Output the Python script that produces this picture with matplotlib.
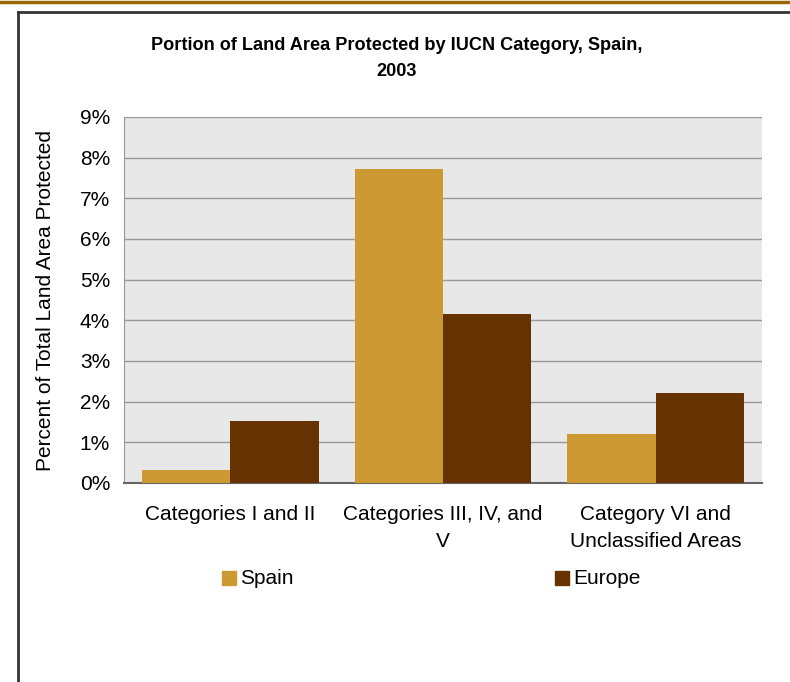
import matplotlib.pyplot as plt
import numpy as np
from matplotlib.lines import Line2D
from matplotlib.patches import Rectangle

categories = ["Categories I and II", "Categories III, IV, and\nV", "Category VI and\nUnclassified Areas"]
spain = [0.32, 7.71, 1.20]
europe = [1.52, 4.15, 2.21]
yticks = [0, 1, 2, 3, 4, 5, 6, 7, 8, 9]

plt.rcParams['font.family'] = ['Liberation Sans', 'DejaVu Sans']

W, H = 790, 682
fig = plt.figure(figsize=(W/100, H/100), dpi=100)

# frame lines
fig.add_artist(Line2D([0, 1], [1 - 1.5/H, 1 - 1.5/H], color='#996600', lw=2.5, transform=fig.transFigure))
fig.add_artist(Line2D([17.5/W, 17.5/W], [0, 1 - 12/H], color='#333333', lw=2, transform=fig.transFigure))
fig.add_artist(Line2D([17.5/W, 1], [1 - 12/H, 1 - 12/H], color='#333333', lw=2, transform=fig.transFigure))

ax = fig.add_axes([124/W, 1 - 483/H, (762-124)/W, (483-117)/H])
ax.set_facecolor('#E8E8E8')
x = np.arange(len(categories))
bw = 0.416
ax.bar(x - bw/2, spain, bw, color='#CC9933', zorder=3)
ax.bar(x + bw/2, europe, bw, color='#663300', zorder=3)
ax.set_xlim(-0.5, 2.5)
ax.set_ylim(0, 9)
ax.set_yticks(yticks)
ax.set_yticklabels([f"{v}%" for v in yticks], fontsize=15)
ax.yaxis.grid(True, color='#999999', lw=1, zorder=1)
ax.set_xticks(x)
ax.set_xticklabels(categories, fontsize=15, linespacing=1.5)
ax.tick_params(axis='y', length=0, pad=10)
ax.tick_params(axis='x', length=0, pad=16)
for s in ['top', 'right']:
    ax.spines[s].set_visible(False)
ax.spines['left'].set_color('#999999')
ax.spines['bottom'].set_color('#666666')
ax.spines['bottom'].set_linewidth(1.5)

fig.text(46/W, 1 - 300/H, "Percent of Total Land Area Protected", rotation=90,
         ha='center', va='center', fontsize=15)

fig.text(397/W, 1 - 45/H, "Portion of Land Area Protected by IUCN Category, Spain,", ha='center', va='center', fontsize=13.1, fontweight='bold')
fig.text(397/W, 1 - 71/H, "2003", ha='center', va='center', fontsize=13.1, fontweight='bold')

# legend
fig.text(240/W, 1 - 578/H, "Spain", ha='left', va='center', fontsize=15)
fig.text(573/W, 1 - 578/H, "Europe", ha='left', va='center', fontsize=15)
fig.add_artist(Rectangle((222/W, 1 - 585/H), 14/W, 14/H, color='#CC9933', transform=fig.transFigure))
fig.add_artist(Rectangle((555/W, 1 - 585/H), 14/W, 14/H, color='#663300', transform=fig.transFigure))

fig.savefig("out.png", dpi=100)
